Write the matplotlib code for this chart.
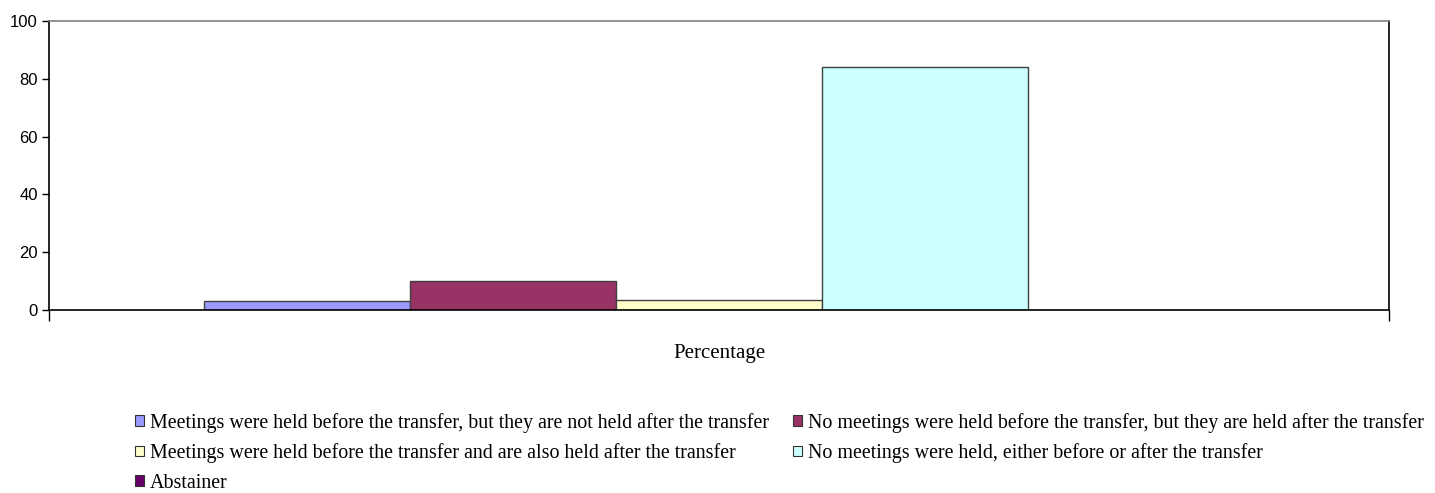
import matplotlib
matplotlib.use("Agg")
import matplotlib.pyplot as plt
from matplotlib.patches import Patch

# -----------------------------
# Data
# -----------------------------
categories = [
    "Meetings were held before the transfer, but they are not held after the transfer",
    "No meetings were held before the transfer, but they are held after the transfer",
    "Meetings were held before the transfer and are also held after the transfer",
    "No meetings were held, either before or after the transfer",
    "Abstainer",
]
values = [3, 10, 3.5, 84, 0]
colors = ["#9999FF", "#993366", "#FFFFCC", "#CCFFFF", "#660066"]
yticks = [0, 20, 40, 60, 80, 100]
xlabel = "Percentage"

# -----------------------------
# Plot
# -----------------------------
fig = plt.figure(figsize=(14.35, 4.93), dpi=100)
ax = fig.add_axes([49 / 1435, 1 - 310 / 493, 1340 / 1435, 289 / 493])

n = len(values)
w = (1030 / 1340) / n
for i in range(n):
    ax.bar((i - (n - 1) / 2) * w, values[i], width=w, color=colors[i],
           edgecolor="#404040", linewidth=1.0, zorder=2)

ax.set_xlim(-0.5, 0.5)
ax.set_ylim(0, 100)
ax.set_yticks(yticks)
ax.set_yticklabels([str(t) for t in yticks], family="Liberation Sans", fontsize=12)
ax.set_xticks([-0.5, 0.5])
ax.set_xticklabels(["", ""])
ax.tick_params(axis="y", direction="out", length=5, width=1, pad=3)
ax.tick_params(axis="x", direction="out", length=8, width=1)

for s in ["left", "bottom", "right"]:
    ax.spines[s].set_color("black")
    ax.spines[s].set_linewidth(1.2)
ax.spines["top"].set_color("#808080")
ax.spines["top"].set_linewidth(1.2)

ax.set_xlabel(xlabel, family="Liberation Serif", fontsize=15, labelpad=13)

handles = [Patch(facecolor=c, edgecolor="#333333", linewidth=0.8) for c in colors]
order = [0, 2, 4, 1, 3]
fig.legend([handles[i] for i in order], [categories[i] for i in order],
           loc="upper left", bbox_to_anchor=(135 / 1435, 1 - 413 / 493),
           ncol=2, frameon=False, borderpad=0, borderaxespad=0,
           prop={"family": "Liberation Serif", "size": 14.4},
           handlelength=0.45, handleheight=0.45, handletextpad=0.3,
           labelspacing=0.52, columnspacing=1.2)

fig.savefig("out.png", dpi=100)
